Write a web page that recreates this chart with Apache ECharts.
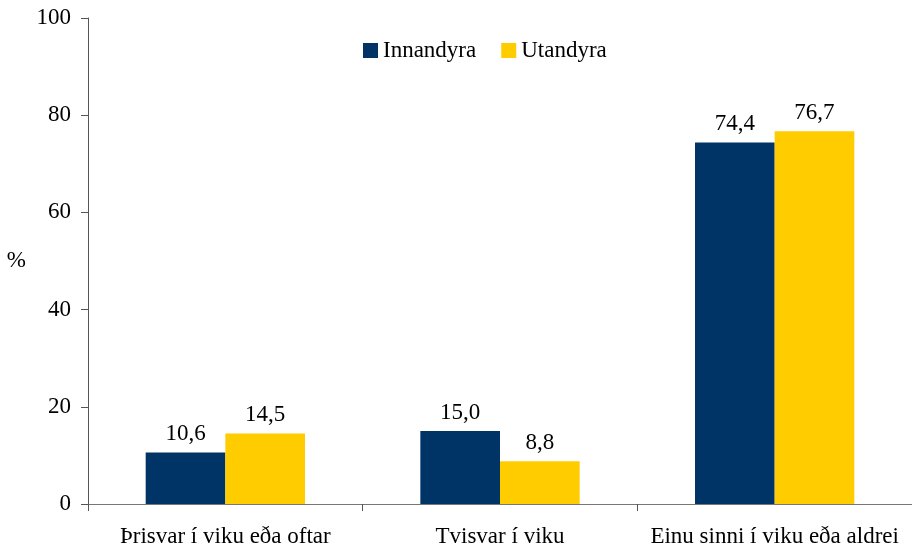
<!DOCTYPE html>
<html>
<head>
<meta charset="utf-8">
<script src="https://cdn.jsdelivr.net/npm/echarts@6/dist/echarts.min.js"></script>
<style>
  html, body { margin: 0; padding: 0; background: #fff; }
  #chart { width: 912px; height: 552px; }
</style>
</head>
<body>
<div id="chart"></div>
<script>
const categories = ['Þrisvar í viku eða oftar', 'Tvisvar í viku', 'Einu sinni í viku eða aldrei'];
const innandyra = [10.6, 15.0, 74.4];
const utandyra = [14.5, 8.8, 76.7];
const seriesNames = ['Innandyra', 'Utandyra'];

const font = '"Liberation Serif", "Times New Roman", serif';
const fs = 23;
const fmt = p => p.value.toFixed(1).replace('.', ',');

const chart = echarts.init(document.getElementById('chart'));

const option = {
  animation: false,
  textStyle: { fontFamily: font },
  legend: {
    data: seriesNames,
    top: 34,
    left: 358,
    itemWidth: 15,
    itemHeight: 15,
    itemGap: 25,
    itemStyle: { borderWidth: 0 },
    icon: 'rect',
    textStyle: { fontFamily: font, fontSize: fs, color: '#000' }
  },
  grid: { left: 88, right: 0, top: 18, bottom: 48, outerBoundsMode: 'none', containLabel: false },
  xAxis: {
    type: 'category',
    data: categories,
    axisLine: { lineStyle: { color: '#777', width: 1 } },
    axisTick: { show: true, length: 7, lineStyle: { color: '#555' } },
    axisLabel: { interval: 0, hideOverlap: false, fontFamily: font, fontSize: fs, color: '#000', margin: 21 }
  },
  yAxis: {
    type: 'value',
    min: 0,
    max: 100,
    interval: 20,
    name: '%',
    nameLocation: 'middle',
    nameRotate: 0,
    nameGap: 62,
    nameTextStyle: { fontFamily: font, fontSize: fs, color: '#000' },
    splitLine: { show: false },
    axisLine: { show: true, lineStyle: { color: '#555', width: 1 } },
    axisTick: { show: true, length: 7, lineStyle: { color: '#555' } },
    axisLabel: { fontFamily: font, fontSize: fs, color: '#000', margin: 17 }
  },
  series: [
    {
      name: seriesNames[0],
      type: 'bar',
      data: innandyra,
      barGap: '0%',
      barCategoryGap: '42%',
      itemStyle: { color: '#003366' },
      label: { show: true, position: 'top', distance: 7, formatter: fmt, fontFamily: font, fontSize: fs, color: '#000' }
    },
    {
      name: seriesNames[1],
      type: 'bar',
      data: utandyra,
      barGap: '0%',
      barCategoryGap: '42%',
      itemStyle: { color: '#FFCC00' },
      label: { show: true, position: 'top', distance: 7, formatter: fmt, fontFamily: font, fontSize: fs, color: '#000' }
    }
  ]
};

chart.setOption(option);
</script>
</body>
</html>
